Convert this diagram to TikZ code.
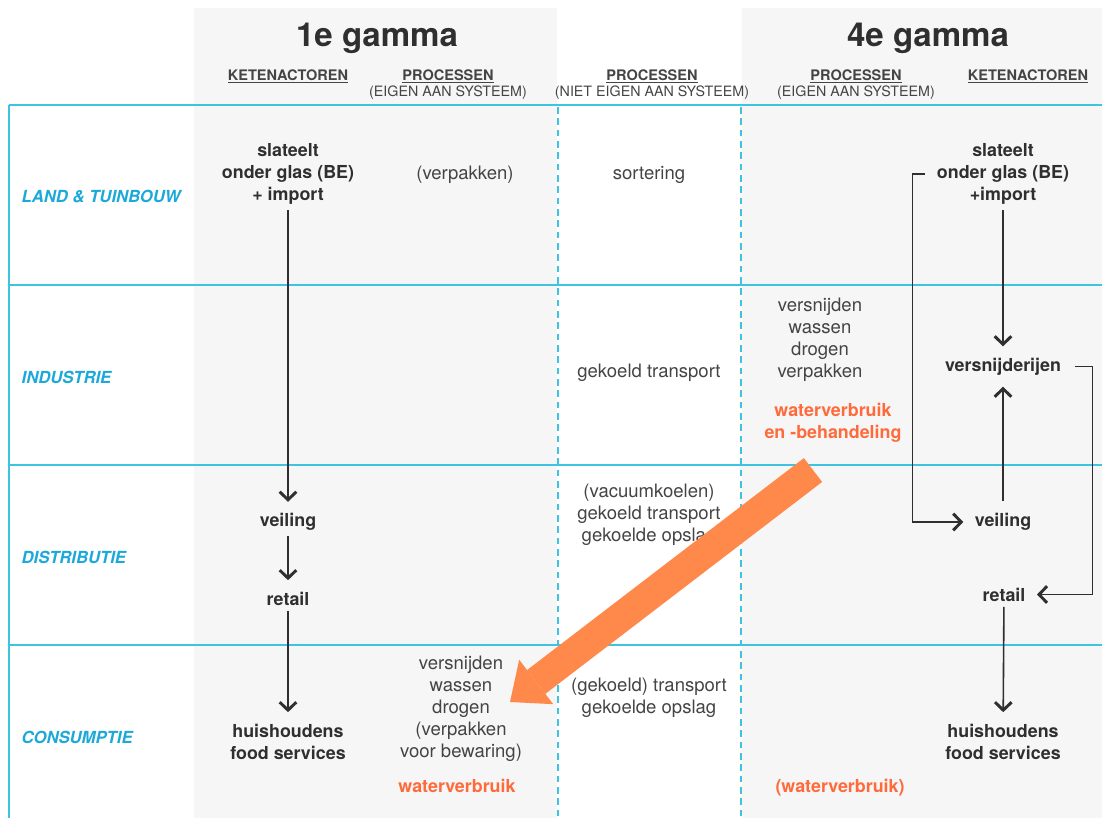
\documentclass[tikz,border=0pt]{standalone}
\usepackage{fontspec}
\setmainfont{TeX Gyre Heros}
\usetikzlibrary{arrows.meta}

\definecolor{gridcyan}{HTML}{3EC3E1}
\definecolor{labelcyan}{HTML}{1CA9D9}
\definecolor{colgray}{HTML}{F6F6F6}
\definecolor{txtdark}{HTML}{2F2F2F}
\definecolor{txtgray}{HTML}{444444}
\definecolor{waterorange}{HTML}{FF6A3B}
\definecolor{arroworange}{HTML}{FF884B}

\tikzset{
  actor/.style={align=center, font=\fontsize{13.4}{16.5}\selectfont\bfseries, text=txtdark, inner sep=4pt},
  proc/.style={align=center, font=\fontsize{13.9}{16.5}\selectfont, text=txtgray},
  water/.style={align=center, font=\fontsize{13.4}{16.5}\selectfont\bfseries, text=waterorange},
  rowlabel/.style={anchor=west, font=\fontsize{12.5}{15}\selectfont\bfseries\itshape, text=labelcyan},
  gamma/.style={font=\fontsize{24.8}{28}\selectfont\bfseries, text=txtdark},
  colhead/.style={anchor=base, font=\fontsize{10.9}{12}\selectfont\bfseries, text=txtgray},
  colsub/.style={anchor=base, font=\fontsize{10.7}{12}\selectfont, text=txtgray},
  gridline/.style={gridcyan, line width=1.5pt},
  flow/.style={txtdark, line width=1.2pt, -{Straight Barb[length=6pt,width=12.5pt,line width=2.2pt]}, shorten >=4.5pt},
  bigarrow/.style={arroworange, line width=22.5pt, -{Triangle[length=24.75pt,width=42pt,line width=0pt]}}
}

\begin{document}
\begin{tikzpicture}[x=0.75pt,y=-0.75pt]
        \useasboundingbox (0,0) rectangle (1102,818);

        % Gray columns
        \fill[colgray] (194,8) rectangle (557,818);
        \fill[colgray] (742,8) rectangle (1102,818);

        % Grid
        \draw[gridline] (9,105) -- (1102,105);
        \draw[gridline] (9,285) -- (1102,285);
        \draw[gridline] (9,465) -- (1102,465);
        \draw[gridline] (9,645) -- (1102,645);
        \draw[gridline] (9,105) -- (9,818);
        \draw[gridcyan, line width=1pt, dash pattern=on 5pt off 3.5pt] (558,107) -- (558,818);
        \draw[gridcyan, line width=1pt, dash pattern=on 5pt off 3.5pt] (741,107) -- (741,818);

        % Column headers
        \node[gamma] (g1) at (377,38) {1e gamma};
        \node[gamma] (g4) at (928,38) {4e gamma};
        \node[colhead] (h1a) at (288,80) {\underline{KETENACTOREN}};
        \node[colhead] (h1b) at (448,80) {\underline{PROCESSEN}};
        \node[colsub] (s1b) at (448,96) {(EIGEN AAN SYSTEEM)};
        \node[colhead] (hmid) at (652,80) {\underline{PROCESSEN}};
        \node[colsub] (smid) at (652,96) {(NIET EIGEN AAN SYSTEEM)};
        \node[colhead] (h4b) at (856,80) {\underline{PROCESSEN}};
        \node[colsub] (s4b) at (856,96) {(EIGEN AAN SYSTEEM)};
        \node[colhead] (h4a) at (1028,80) {\underline{KETENACTOREN}};

        % Row labels
        \node[rowlabel] (land) at (17,197) {LAND \& TUINBOUW};
        \node[rowlabel] (ind) at (17,377) {INDUSTRIE};
        \node[rowlabel] (dist) at (17,557) {DISTRIBUTIE};
        \node[rowlabel] (cons) at (17,737) {CONSUMPTIE};

        % 1e gamma
        \node[actor] (sla1) at (288,174) {slateelt\\onder glas (BE)\\+ import};
        \node[actor] (veil1) at (288,522) {veiling};
        \node[actor] (ret1) at (288,598.5) {retail};
        \node[actor] (huis1) at (288,741.5) {huishoudens\\food services};
        \node[proc] (verp1) at (465,174.5) {(verpakken)};
        \node[proc] (proc1) at (461,709) {versnijden\\wassen\\drogen\\(verpakken\\voor bewaring)};
        \node[water] (wat1) at (457,785.5) {waterverbruik};

        \draw[flow] (sla1) -- (veil1);
        \draw[flow] (veil1) -- (ret1);
        \draw[flow] (ret1) -- (huis1);

        % Niet eigen aan systeem
        \node[proc] (sort) at (649,174.5) {sortering};
        \node[proc] (trans) at (649,372.5) {gekoeld transport};
        \node[proc] (vac) at (649,514.5) {(vacuumkoelen)\\gekoeld transport\\gekoelde opslag};
        \node[proc] (opsl) at (649,697.5) {(gekoeld) transport\\gekoelde opslag};

        % 4e gamma
        \node[proc] (proc4) at (820,339.5) {versnijden\\wassen\\drogen\\verpakken};
        \node[water] (wat4) at (833,422.5) {waterverbruik\\en -behandeling};
        \node[water] (wat4c) at (840,787.5) {(waterverbruik)};
        \node[actor] (sla4) at (1003,174) {slateelt\\onder glas (BE)\\+import};
        \node[actor] (vsnij) at (1003,366.5) {versnijderijen};
        \node[actor] (veil4) at (1003,522) {veiling};
        \node[actor] (ret4) at (1004,594.5) {retail};
        \node[actor] (huis4) at (1003,741.5) {huishoudens\\food services};

        \draw[flow] (sla4) -- (vsnij);
        \draw[flow, shorten <=5pt] (veil4) -- (vsnij);
        \draw[flow, shorten <=5pt] (sla4.west) -- ++(-19,0) |- (veil4.west);
        \draw[flow, shorten <=6pt] (vsnij.east) -- ++(26,0) |- (ret4.east);
        \draw[flow] (ret4) -- (huis4);

        % Water flow
        \coordinate (wstart) at (813,470);
        \coordinate (wend) at (510,702);
        \draw[bigarrow] (wstart) -- (wend);

    \end{tikzpicture}
\end{document}
